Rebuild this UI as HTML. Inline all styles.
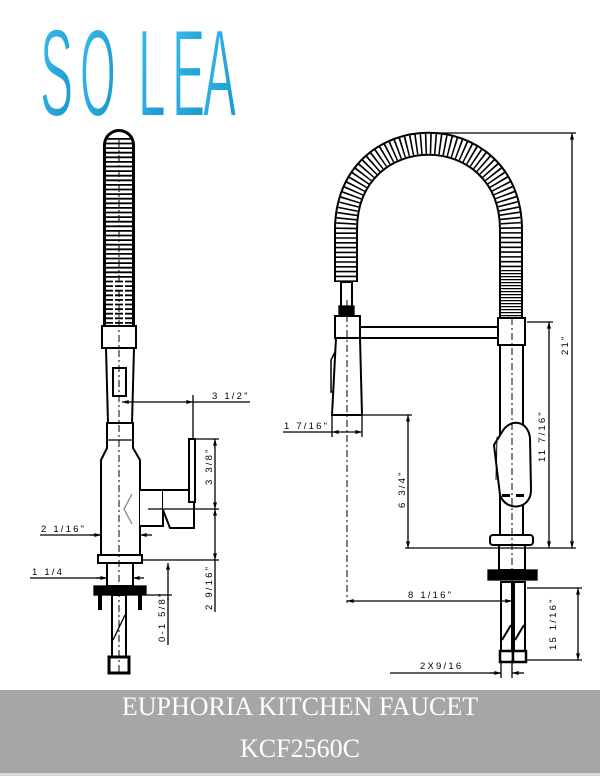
<!DOCTYPE html>
<html><head><meta charset="utf-8"><style>
html,body{margin:0;padding:0;background:#fff;}
svg{display:block;}
.d{font-family:"Liberation Sans",sans-serif;font-size:9.5px;letter-spacing:2.2px;fill:#000;}
</style></head><body>
<svg width="600" height="776" viewBox="0 0 600 776" xmlns="http://www.w3.org/2000/svg">
<defs>
<marker id="a" viewBox="0 0 10 6" refX="10" refY="3" markerWidth="7" markerHeight="4" orient="auto-start-reverse" markerUnits="userSpaceOnUse"><path d="M0,0L10,3L0,6z" fill="#000"/></marker>
<linearGradient id="g" x1="0" y1="0" x2="1" y2="1"><stop offset="0" stop-color="#3cc0ee"/><stop offset="1" stop-color="#1692c8"/></linearGradient>
</defs>
<!-- Logo -->
<g fill="url(#g)" stroke="#fff" stroke-width="2" font-family="Liberation Sans, sans-serif" font-size="124">
<text transform="translate(40,116) scale(0.40,1)">S</text>
<text transform="translate(80,116) scale(0.37,1)">O</text>
<text transform="translate(138,116) scale(0.40,1)">L</text>
<text transform="translate(172,116) scale(0.40,1)">E</text>
<text transform="translate(203,116) scale(0.40,1)">A</text>
</g>

<g stroke="#000" fill="none" stroke-width="1.3">
<!-- LEFT FAUCET -->
<path d="M119,145 L119,326" stroke-width="32" stroke-linecap="round"/>
<path d="M119,145 L119,326" stroke="#fff" stroke-width="26" stroke-linecap="round"/>
<path d="M119,138 L119,326" stroke-width="26" stroke-dasharray="1.8 2.8"/>
<path d="M114,280 L114,326 M124,280 L124,326" stroke="#fff" stroke-width="2"/>
<rect x="102" y="326" width="34" height="22" fill="#fff" stroke-width="2"/>
<path d="M106,348 L134,348 L132,423 L108,423 Z" fill="#fff" stroke-width="2"/>
<rect x="113" y="368" width="13" height="28" stroke-width="2"/>
<path d="M107,423 L133,423 L133,448 L140,460 L140,555 L101,555 L101,460 L107,448 Z" fill="#fff" stroke-width="2"/>
<path d="M107,440 L133,440"/>
<path d="M140,490 L163,490 L163,526 L140,526" fill="#fff" stroke-width="2"/>
<path d="M132,494 L124,509 L132,524" stroke="#888"/>
<path d="M163,490 L189,490 L194,490 L194,528 L170,528 L163,510" fill="#fff" stroke-width="2"/>
<rect x="189" y="439" width="6" height="63" fill="#fff" stroke-width="2"/>
<rect x="98" y="555" width="44" height="8" fill="#fff" stroke-width="2"/>
<rect x="107" y="563" width="26" height="23" fill="#fff" stroke-width="2"/>
<rect x="94" y="586" width="52" height="9" fill="#000"/>
<path d="M100,595 L100,610 M140,595 L140,610" stroke-width="4"/>
<rect x="112" y="595" width="14" height="62" fill="#fff" stroke-width="2"/>
<path d="M113,640 L125,615"/>
<rect x="109" y="657" width="20" height="16" fill="#fff" stroke-width="3"/>
<path d="M119,140 L119,672" stroke-dasharray="7 3 2 3" stroke-width="1"/>

<!-- left dims -->
<path d="M122,402 L193,402" marker-start="url(#a)" marker-end="url(#a)"/>
<path d="M193,402 L250,402 M193,395 L193,439"/>
<path d="M196,439 L219,439 M148,509 L219,509 M142,560 L219,560"/>
<path d="M215,439 L215,509" marker-start="url(#a)" marker-end="url(#a)"/>
<path d="M215,509 L215,560" marker-start="url(#a)" marker-end="url(#a)"/>
<path d="M215,560 L215,612"/>
<path d="M40,535 L101,535" /><path d="M90,535 L101,535" marker-end="url(#a)"/>
<path d="M152,535 L140,535" marker-end="url(#a)"/>
<path d="M30,578 L107,578"/><path d="M96,578 L107,578" marker-end="url(#a)"/><path d="M144,578 L133,578" marker-end="url(#a)"/>
<path d="M146,595 L172,595"/>
<path d="M168,600 L168,563" marker-end="url(#a)"/>
<path d="M168,598 L168,645"/>

<!-- RIGHT FAUCET -->
<path d="M346,282 L346,230 C346,115 511,115 511,230 L511,322" stroke-width="24"/>
<path d="M346,282 L346,230 C346,115 511,115 511,230 L511,322" stroke="#fff" stroke-width="20"/>
<path d="M346,282 L346,230 C346,115 511,115 511,230 L511,270" stroke-width="20" stroke-dasharray="1.6 3.2"/>
<path d="M511,270 L511,322" stroke-width="20" stroke-dasharray="1.2 1.8"/>
<rect x="341" y="282" width="11" height="26" fill="#fff" stroke-width="2"/>
<rect x="339" y="306" width="15" height="10" fill="#000"/>
<rect x="335" y="316" width="25" height="22" fill="#fff" stroke-width="2"/>
<path d="M336,338 L360,338 L362,415 L332,415 Z" fill="#fff" stroke-width="2"/>
<path d="M335,352 L331,360 L331,392 L334,392" stroke-width="1.5"/>
<rect x="360" y="327" width="138" height="11" fill="#fff" stroke-width="2"/>
<rect x="498" y="318" width="27" height="27" fill="#fff" stroke-width="2"/>
<rect x="500" y="345" width="23" height="192" fill="#fff" stroke-width="2"/>
<path d="M502,432 C510,418 528,420 530,438 L531,490 C531,510 506,512 500,495 L494,445 Z" fill="#fff" stroke-width="2"/>
<path d="M497,437 L496,480" stroke-width="1"/>
<rect x="502" y="494" width="8" height="3" fill="#000" stroke="none"/>
<rect x="516" y="494" width="8" height="3" fill="#000" stroke="none"/>
<rect x="490" y="535" width="43" height="10" rx="3" fill="#fff" stroke-width="2"/>
<rect x="499" y="545" width="26" height="25" fill="#fff" stroke-width="2"/>
<rect x="488" y="570" width="49" height="10" fill="#000"/>
<rect x="501" y="582" width="11" height="70" fill="#fff" stroke-width="2"/>
<rect x="514" y="582" width="11" height="70" fill="#fff" stroke-width="2"/>
<path d="M502,640 L511,625 M515,640 L524,625" stroke-width="2"/>
<rect x="500" y="651" width="13" height="11" fill="#fff" stroke-width="2.5"/>
<rect x="513" y="651" width="13" height="11" fill="#fff" stroke-width="2.5"/>
<path d="M347,300 L347,603 M512,318 L512,615" stroke-dasharray="7 3 2 3" stroke-width="1"/>

<!-- right dims -->
<path d="M430,133 L576,133 M527,322 L553,322 M405,548 L576,548 M362,415 L412,415"/>
<path d="M572,133 L572,548" marker-start="url(#a)" marker-end="url(#a)"/>
<path d="M549,322 L549,548" marker-start="url(#a)" marker-end="url(#a)"/>
<path d="M408,415 L408,548" marker-start="url(#a)" marker-end="url(#a)"/>
<path d="M332,415 L332,437 M362,415 L362,437"/>
<path d="M283,432 L332,432"/><path d="M332,432 L362,432" marker-start="url(#a)" marker-end="url(#a)"/>
<path d="M347,601 L512,601" marker-start="url(#a)" marker-end="url(#a)"/>
<path d="M527,588 L582,588 M527,660 L582,660"/>
<path d="M578,588 L578,660" marker-start="url(#a)" marker-end="url(#a)"/>
<path d="M501,660 L501,678 M512,660 L512,678"/>
<path d="M390,673 L501,673"/><path d="M490,673 L501,673" marker-end="url(#a)"/>
<path d="M524,673 L512,673" marker-end="url(#a)"/>
</g>

<!-- dimension texts -->
<text class="d" x="212" y="399">3 1/2"</text>
<text class="d" transform="translate(212,485) rotate(-90)">3 3/8"</text>
<text class="d" transform="translate(212,610) rotate(-90)">2 9/16"</text>
<text class="d" x="41" y="532">2 1/16"</text>
<text class="d" x="32" y="575">1 1/4</text>
<text class="d" transform="translate(165,642) rotate(-90)">0-1 5/8"</text>
<text class="d" x="284" y="429">1 7/16"</text>
<text class="d" transform="translate(568,355) rotate(-90)">21"</text>
<text class="d" transform="translate(545,462) rotate(-90)">11 7/16"</text>
<text class="d" transform="translate(405,508) rotate(-90)">6 3/4"</text>
<text class="d" x="408" y="598">8 1/16"</text>
<text class="d" transform="translate(556,650) rotate(-90)">15 1/16"</text>
<text class="d" x="420" y="669">2X9/16</text>

<!-- banner -->
<rect x="0" y="690" width="600" height="83" fill="#a6a6a6"/>
<rect x="0" y="773" width="600" height="3" fill="#d9d9d9"/>
<text x="300" y="715" text-anchor="middle" font-family="Liberation Serif, serif" font-size="26" fill="#fff">EUPHORIA KITCHEN FAUCET</text>
<text x="300" y="757" text-anchor="middle" font-family="Liberation Serif, serif" font-size="26" fill="#fff">KCF2560C</text>
</svg>
</body></html>
